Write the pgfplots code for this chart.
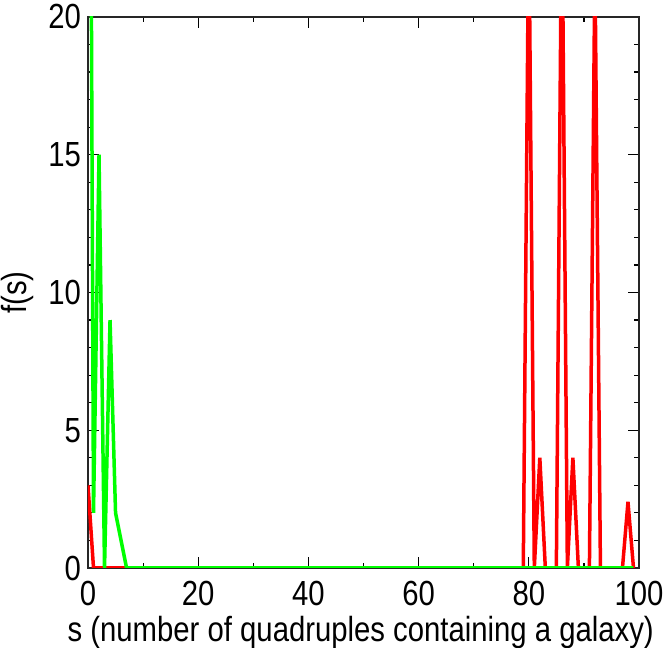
\documentclass[border=0pt]{standalone}
\usepackage{fontspec}
\setmainfont{Liberation Sans}[FakeStretch=0.84]
\usepackage{pgfplots}
\pgfplotsset{compat=1.18}
\begin{document}
\begin{tikzpicture}
\begin{axis}[
    width=275.5bp, height=275.5bp, scale only axis,
    xmin=0, xmax=100, ymin=0, ymax=20,
    xtick={0,20,...,100}, minor x tick num=1,
    ytick={0,5,...,20}, minor y tick num=4,
    tick align=inside,
    xtick pos=both, ytick pos=both,
    major tick length=5.5bp, minor tick length=2.5bp,
    tick style={black, line width=0.6pt},
    axis line style={black!85, line width=1pt},
    /pgf/number format/assume math mode=true,
    ticklabel style={font=\fontsize{17.5}{20}\selectfont},
    xticklabel style={yshift=-3bp},
    label style={font=\fontsize{17.5}{20}\selectfont},
    xlabel={s (number of quadruples containing a galaxy)},
    ylabel={f(s)},
    ylabel style={at={(axis description cs:-0.128,0.5)}, anchor=center},
    xlabel style={at={(axis description cs:0.495,-0.117)}, anchor=center},
]
% red series (drawn first, green lies on top)
\addplot[red, line width=1.75bp] coordinates {
    (0,3) (1,0) (79,0) (80,24) (81,0) (82,4) (83,0) (85,0) (86,25)
    (87,0) (88,4) (89,0) (91,0) (92,22) (93,0) (97,0) (98,2.4) (99,0)
};
% green series
\addplot[green, line width=1.75bp] coordinates {
    (0,50) (1,2) (2,15) (3,0) (4,9) (5,2) (6,1) (7,0) (99,0)
};
\end{axis}
\pgfresetboundingbox
\path[use as bounding box] (-44bp,-40bp) rectangle (288bp,284bp);
\end{tikzpicture}
\end{document}
